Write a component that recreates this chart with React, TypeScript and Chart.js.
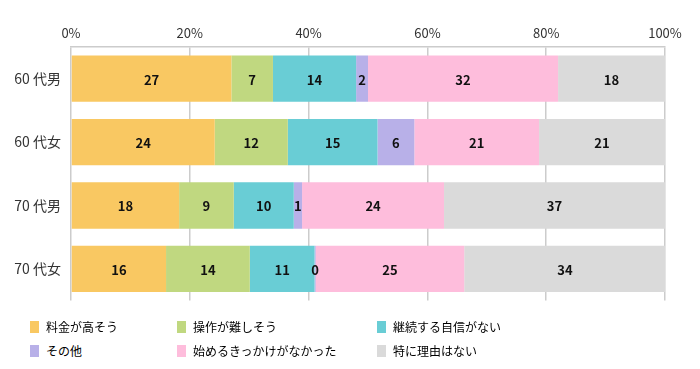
import React, { useEffect, useRef } from "react";
import { Chart, registerables } from "chart.js";

Chart.register(...registerables);

const categories = ["60 代男", "60 代女", "70 代男", "70 代女"];
const seriesNames = ["料金が高そう", "操作が難しそう", "継続する自信がない", "その他", "始めるきっかけがなかった", "特に理由はない"];
const seriesColors = ["#F9C862", "#C0D880", "#69CDD5", "#B8B0E8", "#FEBDDC", "#DADADA"];
const tooExpensive = [27.0, 24.2, 18.2, 16.0];
const tooDifficult = [7.0, 12.3, 9.2, 14.1];
const noConfidence = [14.0, 15.1, 10.1, 10.9];
const other = [2.0, 6.2, 1.4, 0.2];
const noTrigger = [32.0, 21.0, 23.9, 25.0];
const noReason = [18.0, 21.2, 37.2, 33.9];
const seriesValues = [tooExpensive, tooDifficult, noConfidence, other, noTrigger, noReason];
const tickValues = [0, 20, 40, 60, 80, 100];

const FONT = "'Noto Sans CJK JP', 'Noto Sans', sans-serif";

const labelPlugin = {
  id: "segLabels",
  afterDatasetsDraw(chart: any) {
    const ctx = chart.ctx;
    ctx.save();
    ctx.font = `bold 13px ${FONT}`;
    ctx.fillStyle = "#111";
    ctx.textAlign = "center";
    ctx.textBaseline = "middle";
    chart.data.datasets.forEach((ds: any, di: number) => {
      const meta = chart.getDatasetMeta(di);
      meta.data.forEach((el: any, i: number) => {
        const v = ds.data[i];
        const cx = (el.x + el.base) / 2;
        ctx.fillText(String(Math.round(v)), cx, el.y + 1);
      });
    });
    ctx.restore();
  },
};

export default function App() {
  const ref = useRef<HTMLCanvasElement | null>(null);
  useEffect(() => {
    if (!ref.current) return;
    const chart = new Chart(ref.current, {
      type: "bar",
      data: {
        labels: categories,
        datasets: seriesNames.map((n, i) => ({
          label: n,
          data: seriesValues[i],
          backgroundColor: seriesColors[i],
          borderWidth: 0,
          categoryPercentage: 1,
          barPercentage: 0.73,
        })),
      },
      options: {
        indexAxis: "y",
        animation: false,
        responsive: false,
        maintainAspectRatio: false,
        layout: { padding: { left: 0, right: 35, top: 0, bottom: 0 } },
        plugins: { legend: { display: false }, tooltip: { enabled: false } },
        scales: {
          x: {
            position: "top",
            stacked: true,
            min: 0,
            max: 100,
            afterBuildTicks: (s: any) => {
              s.ticks = tickValues.map((v) => ({ value: v }));
            },
            afterFit: (s: any) => {
              s.height = 47;
            },
            ticks: {
              callback: (v: any) => v + "%",
              color: "#333",
              font: { family: FONT, size: 13 },
              padding: 6,
              maxRotation: 0,
            },
            grid: { color: "#cccccc", drawTicks: false, lineWidth: 1.5 },
            border: { color: "#cccccc", width: 1.5 },
          },
          y: {
            stacked: true,
            afterFit: (s: any) => {
              s.width = 71;
            },
            ticks: {
              color: "#333",
              font: { family: FONT, size: 14 },
              padding: 10,
            },
            grid: { display: false, drawTicks: false },
            border: { display: false },
          },
        },
      },
      plugins: [labelPlugin],
    } as any);
    return () => chart.destroy();
  }, []);

  const colLeft = [30, 177, 377];
  return (
    <div style={{ position: "absolute", left: 0, top: 0, width: 700, height: 369, background: "#fff" }}>
      <canvas ref={ref} width={700} height={319} style={{ position: "absolute", left: 0, top: 0 }} />
      {seriesNames.map((n, i) => {
        const col = i % 3;
        const row = Math.floor(i / 3);
        return (
          <div
            key={n}
            style={{
              position: "absolute",
              left: colLeft[col],
              top: 320 + row * 24,
              display: "flex",
              alignItems: "center",
              fontFamily: FONT,
              fontSize: 12,
              color: "#000",
              lineHeight: "14px",
            }}
          >
            <span style={{ display: "inline-block", width: 9, height: 12, background: seriesColors[i], marginRight: 7 }} />
            <span>{n}</span>
          </div>
        );
      })}
    </div>
  );
}
